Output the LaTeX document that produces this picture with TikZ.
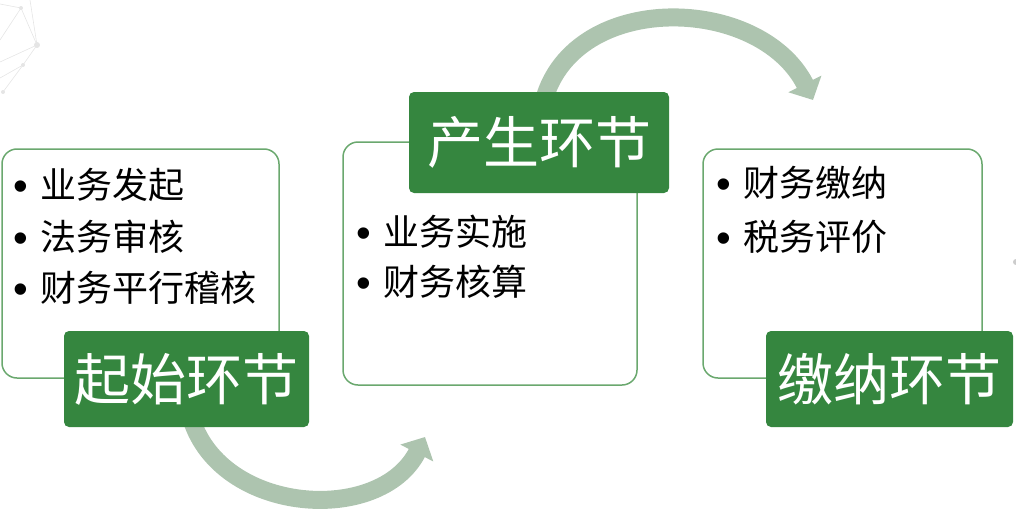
\documentclass[tikz,border=0pt]{standalone}
\usepackage{fontspec}
\setmainfont{Noto Sans CJK SC}
\newfontfamily\bulfont{Liberation Sans}
\usetikzlibrary{arrows.meta,backgrounds}
\definecolor{labgreen}{RGB}{53,134,63}
\definecolor{boxgreen}{RGB}{106,168,110}
\definecolor{flowgreen}{RGB}{173,196,175}
\newcommand{\bul}{\llap{\makebox[38pt]{\raisebox{-1.5pt}{\bulfont\fontsize{42}{40}\selectfont •}}}}

\begin{document}
\begin{tikzpicture}[x=1pt,y=-1pt]
    \tikzstyle{panel}=[draw=boxgreen, line width=1.5pt, rounded corners=15pt, fill=white, inner sep=0pt]
    \tikzstyle{lab}=[fill=labgreen, rounded corners=5pt, text=white, inner sep=0pt, font=\fontsize{56}{60}\selectfont]
    \tikzstyle{item}=[anchor=west, inner sep=0pt, font=\fontsize{36}{40}\selectfont]
    \tikzstyle{flow}=[draw=flowgreen, line width=18pt, -{Triangle[length=18pt,width=36pt]}]
    \tikzstyle{deco}=[draw=gray!20, line width=0.6pt]

    \useasboundingbox (0,0) rectangle (1016,519);

    % faint network in the corner
    \draw[deco] (0,4) -- (21,8) -- (37,45) -- (23,65) -- (3,92);
    \draw[deco] (21,8) -- (0,40) (37,45) -- (0,62) (23,65) -- (0,78) (37,45) -- (30,0);
    \fill[gray!20] (37,45) circle (3) (21,8) circle (2) (23,65) circle (2) (3,92) circle (2);
    \fill[gray!40] (1016,262) circle (3);

    \node[panel, minimum width=277pt, minimum height=229pt] (p1) at (140.5,263.5) {};
    \node[panel, minimum width=294pt, minimum height=243pt] (p2) at (490,263.5) {};
    \node[panel, minimum width=279pt, minimum height=229pt] (p3) at (842.5,263.5) {};

    \node[lab, minimum width=245pt, minimum height=96pt] (l1) at (186.5,379) {起始环节};
    \node[lab, minimum width=260pt, minimum height=101pt] (l2) at (539,142.5) {产生环节};
    \node[lab, minimum width=247pt, minimum height=96pt] (l3) at (889.5,379) {缴纳环节};

    \node[item] (t11) at (40,185) {\bul 业务发起};
    \node[item] (t12) at (40,237) {\bul 法务审核};
    \node[item] (t13) at (40,288) {\bul 财务平行稽核};

    \node[item] (t21) at (383,232) {\bul 业务实施};
    \node[item] (t22) at (383,282) {\bul 财务核算};

    \node[item] (t31) at (743,183) {\bul 财务缴纳};
    \node[item] (t32) at (743,237) {\bul 税务评价};

    \coordinate (e1) at (425,437);
    \coordinate (e2) at (813,100);
    \begin{scope}[on background layer]
    \draw[flow] ([xshift=5pt,yshift=8pt]l1.south) .. controls (222,515) and (380,525) .. (e1);
    \draw[flow] ([xshift=5pt,yshift=-8pt]l2.north) .. controls (575,-10) and (760,-5) .. (e2);
    \end{scope}
\end{tikzpicture}
\end{document}
